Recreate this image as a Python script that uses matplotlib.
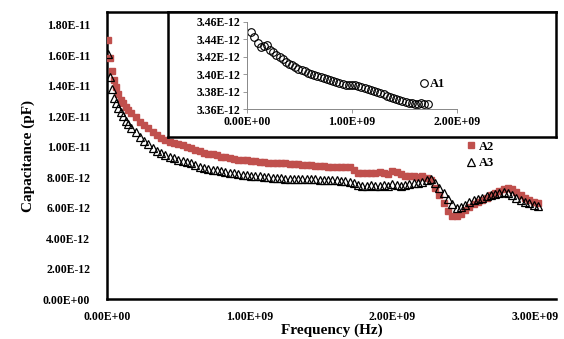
import matplotlib
matplotlib.use("Agg")
import matplotlib.pyplot as plt
from matplotlib.ticker import FuncFormatter

plt.rcParams['font.family'] = ['Liberation Serif', 'DejaVu Serif']
plt.rcParams['font.weight'] = 'bold'

# main chart: frequency in GHz, capacitance in units of 1e-12 F
freq_ghz = [0.005, 0.02, 0.035, 0.05, 0.065, 0.08, 0.095, 0.11, 0.13, 0.15,
            0.17, 0.20, 0.23, 0.26, 0.29, 0.32, 0.35, 0.38, 0.41, 0.44,
            0.47, 0.50, 0.53, 0.56, 0.59, 0.62, 0.65, 0.68, 0.71, 0.74,
            0.77, 0.80, 0.83, 0.86, 0.89, 0.92, 0.95, 0.98, 1.01, 1.04,
            1.07, 1.10, 1.13, 1.16, 1.19, 1.22, 1.25, 1.28, 1.31, 1.34,
            1.37, 1.40, 1.43, 1.46, 1.49, 1.52, 1.55, 1.58, 1.61, 1.64,
            1.67, 1.70, 1.73, 1.76, 1.79, 1.82, 1.85, 1.88, 1.91, 1.94,
            1.97, 2.00, 2.03, 2.06, 2.09, 2.12, 2.15, 2.18, 2.21, 2.24,
            2.27, 2.30, 2.33, 2.36, 2.39, 2.42, 2.45, 2.48, 2.51, 2.54,
            2.57, 2.60, 2.63, 2.66, 2.69, 2.72, 2.75, 2.78, 2.81, 2.84,
            2.87, 2.90, 2.93, 2.96, 2.99, 3.02]

a2 = [17.0, 15.8, 15.0, 14.4, 13.9, 13.45, 13.1, 12.9, 12.6, 12.4,
      12.2, 11.95, 11.65, 11.4, 11.2, 11.0, 10.8, 10.6, 10.45, 10.3,
      10.25, 10.15, 10.1, 10.0, 9.9, 9.8, 9.7, 9.6, 9.55, 9.5,
      9.45, 9.35, 9.3, 9.25, 9.2, 9.15, 9.1, 9.1, 9.05, 9.05,
      9.0, 9.0, 8.95, 8.95, 8.9, 8.9, 8.9, 8.85, 8.85, 8.85,
      8.8, 8.8, 8.8, 8.75, 8.75, 8.75, 8.7, 8.7, 8.7, 8.65,
      8.65, 8.65, 8.5, 8.3, 8.3, 8.25, 8.3, 8.3, 8.35, 8.25,
      8.2, 8.4, 8.35, 8.2, 8.1, 8.05, 8.1, 8.0, 8.05, 7.95,
      7.8, 7.3, 6.8, 6.3, 5.8, 5.45, 5.45, 5.6, 5.85, 6.05,
      6.25, 6.4, 6.5, 6.65, 6.8, 6.95, 7.1, 7.25, 7.3, 7.2,
      7.0, 6.8, 6.65, 6.5, 6.4, 6.3]

a3 = [16.1, 14.6, 13.8, 13.2, 12.9, 12.55, 12.25, 12.0, 11.7, 11.5,
      11.25, 10.95, 10.65, 10.4, 10.15, 9.95, 9.75, 9.6, 9.45, 9.35,
      9.25, 9.15, 9.05, 9.0, 8.9, 8.8, 8.7, 8.6, 8.55, 8.5,
      8.45, 8.4, 8.35, 8.3, 8.25, 8.2, 8.15, 8.15, 8.1, 8.05,
      8.05, 8.0, 8.0, 7.95, 7.95, 7.95, 7.9, 7.9, 7.9, 7.9,
      7.85, 7.85, 7.85, 7.85, 7.8, 7.8, 7.8, 7.8, 7.8, 7.75,
      7.75, 7.7, 7.6, 7.5, 7.45, 7.45, 7.5, 7.45, 7.45, 7.5,
      7.45, 7.55, 7.5, 7.45, 7.5, 7.55, 7.6, 7.6, 7.7, 7.8,
      7.85, 7.6, 7.3, 6.95, 6.6, 6.25, 5.95, 6.05, 6.2, 6.35,
      6.5, 6.6, 6.65, 6.75, 6.8, 6.9, 6.95, 7.0, 6.95, 6.8,
      6.65, 6.5, 6.4, 6.3, 6.2, 6.1]

# inset: sample A1
freq_a1_ghz = [0.04, 0.07, 0.10, 0.13, 0.16, 0.19, 0.22, 0.25, 0.28, 0.31,
               0.34, 0.37, 0.40, 0.43, 0.46, 0.49, 0.52, 0.55, 0.58, 0.61,
               0.64, 0.67, 0.70, 0.73, 0.76, 0.79, 0.82, 0.85, 0.88, 0.91,
               0.94, 0.97, 1.00, 1.03, 1.06, 1.09, 1.12, 1.15, 1.18, 1.21,
               1.24, 1.27, 1.30, 1.33, 1.36, 1.39, 1.42, 1.45, 1.48, 1.51,
               1.54, 1.57, 1.60, 1.63, 1.66, 1.69, 1.72]
a1 = [3.448, 3.442, 3.436, 3.431, 3.432, 3.433, 3.428, 3.425, 3.422, 3.419,
      3.417, 3.414, 3.412, 3.410, 3.408, 3.406, 3.405, 3.403, 3.401, 3.400,
      3.399, 3.398, 3.397, 3.396, 3.394, 3.393, 3.392, 3.391, 3.390, 3.389,
      3.388, 3.388, 3.387, 3.387, 3.386, 3.385, 3.384, 3.383, 3.382, 3.381,
      3.380, 3.378, 3.377, 3.375, 3.374, 3.373, 3.371, 3.370, 3.369, 3.368,
      3.367, 3.367, 3.366, 3.366, 3.367, 3.366, 3.366]

main_yticks = [0, 2e-12, 4e-12, 6e-12, 8e-12, 1e-11, 1.2e-11, 1.4e-11, 1.6e-11, 1.8e-11]
main_xticks = [0, 1e9, 2e9, 3e9]
inset_yticks = [3.36e-12, 3.38e-12, 3.40e-12, 3.42e-12, 3.44e-12, 3.46e-12]
inset_xticks = [0, 1e9, 2e9]

sci = FuncFormatter(lambda v, p: f"{v:.2E}")
red = '#c0504d'

fig = plt.figure(figsize=(5.64, 3.39), dpi=100)

### MAIN PLOT
ax = fig.add_axes([107/564, 1-299/339, 449/564, 287/339])
ax.plot([f*1e9 for f in freq_ghz], [v*1e-12 for v in a2], 's', ms=5,
        color=red, mec=red, label='A2', zorder=3)
ax.plot([f*1e9 for f in freq_ghz], [v*1e-12 for v in a3], '^', ms=5.5,
        mfc='none', mec='black', mew=0.9, label='A3', zorder=4)
ax.set_xlim(0, 3.147e9)
ax.set_ylim(0, 1.885e-11)
ax.set_xticks(main_xticks)
ax.set_yticks(main_yticks)
ax.xaxis.set_major_formatter(sci)
ax.yaxis.set_major_formatter(sci)
ax.tick_params(length=0, labelsize=8.5)
ax.tick_params(axis='y', pad=12)
ax.tick_params(axis='x', pad=9)
for s in ['left', 'bottom', 'top']:
    ax.spines[s].set_linewidth(1.8)
ax.spines['right'].set_visible(False)
ax.set_xlabel('Frequency (Hz)', fontsize=11, fontweight='bold', labelpad=0)
ax.set_ylabel('Capacitance (pF)', fontsize=11, fontweight='bold', labelpad=6)
ax.legend(loc='upper left', bbox_to_anchor=(458/564, 1-133/339),
          bbox_transform=fig.transFigure, frameon=False,
          handlelength=0.8, handletextpad=0.3, labelspacing=0.35,
          borderpad=0.1, prop={'weight': 'bold', 'size': 9})

### INSET FRAME
frame = fig.add_axes([168/564, 1-137/339, 388/564, 125/339])
frame.set_xticks([])
frame.set_yticks([])
for s in frame.spines.values():
    s.set_linewidth(1.8)

### INSET PLOT
ins = fig.add_axes([247/564, 1-109/339, 210/564, 87.3/339])
ins.patch.set_alpha(0)
ins.plot([f*1e9 for f in freq_a1_ghz], [v*1e-12 for v in a1], 'o', ms=5.5,
         mfc='none', mec='black', mew=0.8, label='A1')
ins.set_xlim(0, 2e9)
ins.set_ylim(3.36e-12, 3.46e-12)
ins.set_xticks(inset_xticks)
ins.set_yticks(inset_yticks)
ins.xaxis.set_major_formatter(sci)
ins.yaxis.set_major_formatter(sci)
ins.tick_params(length=3, width=0.6, color='#888888', labelsize=8.5, pad=2)
for s in ['top', 'right']:
    ins.spines[s].set_visible(False)
for s in ['left', 'bottom']:
    ins.spines[s].set_linewidth(0.7)
    ins.spines[s].set_color('#888888')
ins.legend(loc='center left', bbox_to_anchor=(414/564, 1-84/339),
           bbox_transform=fig.transFigure, frameon=False,
           handlelength=0.6, handletextpad=0.2, borderpad=0,
           prop={'weight': 'bold', 'size': 9})

fig.savefig('out.png', dpi=100)
